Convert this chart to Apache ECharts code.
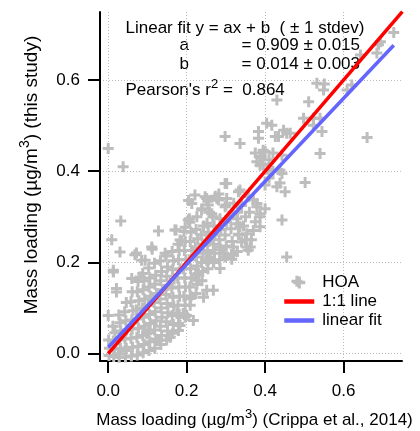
<!DOCTYPE html>
<html>
<head>
<meta charset="utf-8">
<script src="https://cdn.jsdelivr.net/npm/echarts@6/dist/echarts.min.js"></script>
<style>
html, body { margin: 0; padding: 0; background: #fff; }
#chart { width: 420px; height: 431px; }
</style>
</head>
<body>
<div id="chart"></div>
<script>
// HOA mass loading, x = Crippa et al. 2014, y = this study (ug/m3)
var hoaPoints = [
  // dense core
  [0.002,-0.004],[0.003,0.012],[0.001,0.03],
  [0.014,-0.006],[0.016,0.01],[0.013,0.028],[0.017,0.046],[0.012,0.06],
  [0.028,-0.008],[0.031,0.012],[0.029,0.03],[0.032,0.05],[0.03,0.068],[0.027,0.085],
  [0.044,-0.007],[0.046,0.012],[0.043,0.032],[0.047,0.052],[0.045,0.072],[0.042,0.092],[0.046,0.112],
  [0.059,-0.005],[0.062,0.014],[0.058,0.034],[0.061,0.054],[0.06,0.074],[0.063,0.094],[0.058,0.114],[0.061,0.136],
  [0.074,-0.003],[0.076,0.016],[0.073,0.036],[0.077,0.056],[0.075,0.076],[0.072,0.096],[0.078,0.116],[0.074,0.136],[0.076,0.158],
  [0.089,0.002],[0.091,0.02],[0.088,0.04],[0.092,0.06],[0.09,0.08],[0.087,0.1],[0.093,0.12],[0.089,0.14],[0.091,0.16],[0.088,0.176],
  [0.104,0.007],[0.106,0.026],[0.103,0.046],[0.107,0.066],[0.105,0.086],[0.102,0.106],[0.108,0.126],[0.104,0.146],[0.106,0.166],[0.103,0.188],
  [0.119,0.012],[0.121,0.032],[0.118,0.052],[0.122,0.072],[0.12,0.092],[0.117,0.112],[0.123,0.132],[0.119,0.152],[0.121,0.172],[0.118,0.198],
  [0.134,0.02],[0.136,0.04],[0.133,0.06],[0.137,0.08],[0.135,0.1],[0.132,0.12],[0.138,0.14],[0.134,0.16],[0.136,0.18],[0.133,0.204],
  [0.149,0.03],[0.151,0.05],[0.148,0.07],[0.152,0.09],[0.15,0.11],[0.147,0.13],[0.153,0.15],[0.149,0.17],[0.151,0.19],[0.148,0.214],
  [0.164,0.045],[0.166,0.064],[0.163,0.084],[0.167,0.104],[0.165,0.124],[0.162,0.144],[0.168,0.164],[0.164,0.184],[0.166,0.204],[0.163,0.224],
  [0.179,0.066],[0.181,0.086],[0.178,0.106],[0.182,0.126],[0.18,0.146],[0.177,0.166],[0.183,0.186],[0.179,0.206],[0.181,0.226],[0.178,0.24],
  [0.194,0.086],[0.196,0.106],[0.193,0.126],[0.197,0.146],[0.195,0.166],[0.192,0.186],[0.198,0.206],[0.194,0.226],[0.196,0.246],[0.193,0.268],
  [0.209,0.106],[0.211,0.126],[0.208,0.146],[0.212,0.166],[0.21,0.186],[0.207,0.206],[0.213,0.226],[0.209,0.246],[0.211,0.266],[0.208,0.288],
  [0.224,0.132],[0.226,0.152],[0.223,0.172],[0.227,0.192],[0.225,0.212],[0.222,0.232],[0.228,0.252],[0.224,0.272],[0.226,0.3],
  [0.239,0.16],[0.241,0.18],[0.238,0.2],[0.242,0.22],[0.24,0.24],[0.237,0.26],[0.243,0.28],[0.239,0.318],
  [0.254,0.186],[0.256,0.206],[0.253,0.226],[0.257,0.246],[0.255,0.266],[0.252,0.286],[0.258,0.31],[0.254,0.334],
  [0.269,0.2],[0.271,0.22],[0.268,0.24],[0.272,0.26],[0.27,0.28],[0.267,0.3],[0.273,0.345],
  [0.284,0.206],[0.286,0.228],[0.283,0.25],[0.287,0.272],[0.285,0.296],[0.282,0.35],
  [0.299,0.212],[0.301,0.236],[0.298,0.26],[0.302,0.288],[0.3,0.326],
  [0.314,0.218],[0.316,0.246],[0.313,0.274],[0.318,0.31],
  [0.329,0.224],[0.332,0.262],[0.328,0.296],
  // upper-left and middle
  [0.0,0.45],[0.038,0.41],[0.032,0.291],[0.009,0.25],[0.03,0.223],[0.068,0.217],[0.072,0.221],[0.094,0.205],
  [0.085,0.205],[0.111,0.234],[0.112,0.229],[0.128,0.269],[0.145,0.22],[0.17,0.271],[0.173,0.271],[0.183,0.249],
  [0.187,0.247],[0.196,0.277],[0.204,0.293],[0.207,0.296],[0.205,0.336],[0.213,0.329],[0.221,0.348],[0.238,0.315],
  [0.247,0.344],[0.251,0.34],[0.255,0.326],[0.264,0.307],[0.277,0.34],[0.281,0.337],[0.298,0.322],[0.302,0.34],
  [0.298,0.373],[0.302,0.373],[0.332,0.355],[0.336,0.359],[0.357,0.344],[0.37,0.337],[0.379,0.329],[0.379,0.322],
  [0.387,0.307],[0.387,0.3],[0.375,0.289],[0.4,0.318],[0.013,0.183],[0.013,0.179],[0.021,0.143],[0.021,0.135],
  [0.06,0.165],[0.081,0.168],[0.0,0.084],
  // right of the line
  [0.31,0.3],[0.33,0.31],[0.35,0.3],[0.32,0.33],[0.34,0.325],[0.36,0.31],[0.345,0.28],[0.33,0.285],
  [0.37,0.27],[0.35,0.25],[0.365,0.25],[0.34,0.245],[0.336,0.278],[0.353,0.263],[0.362,0.234],[0.353,0.234],
  [0.319,0.234],[0.332,0.26],[0.387,0.278],[0.251,0.249],[0.285,0.234],[0.443,0.293],[0.455,0.212],[0.481,0.159],
  // lower right
  [0.251,0.139],[0.268,0.139],[0.243,0.124],[0.209,0.121],[0.2,0.084],[0.175,0.088],[0.191,0.088],[0.196,0.08],
  [0.179,0.051],[0.183,0.062],[0.217,0.073],[0.158,0.036],[0.128,0.029],[0.098,0.044],[0.043,0.007],[0.026,0.0],
  [0.26,0.212],[0.294,0.22],[0.319,0.216],[0.357,0.227],[0.251,0.205],[0.268,0.201],[0.315,0.207],[0.285,0.187],
  [0.23,0.176],[0.23,0.161],
  // upper cluster
  [0.298,0.476],[0.336,0.461],[0.379,0.421],[0.387,0.413],[0.387,0.432],[0.395,0.446],[0.4,0.443],[0.383,0.472],
  [0.383,0.487],[0.404,0.505],[0.417,0.501],[0.426,0.476],[0.434,0.476],[0.447,0.49],[0.464,0.483],[0.455,0.483],
  [0.443,0.435],[0.443,0.395],[0.438,0.402],[0.438,0.374],[0.43,0.366],[0.451,0.355],[0.39,0.43],[0.41,0.425],
  [0.42,0.44],[0.395,0.415],[0.405,0.405],[0.375,0.44],[0.41,0.385],[0.42,0.4],[0.4,0.37],[0.502,0.375],
  [0.54,0.439],[0.545,0.487],[0.498,0.516],[0.523,0.516],[0.523,0.501],[0.54,0.516],[0.66,0.474],
  // top
  [0.43,0.556],[0.511,0.552],[0.532,0.593],[0.551,0.591],[0.549,0.578],[0.609,0.578],[0.621,0.589],
  [0.643,0.655],[0.685,0.659],[0.689,0.677],[0.694,0.684],[0.728,0.704]
];
var oneToOneX = [0, 0.75];
var oneToOneY = [0, 0.75];
var fitX = [0, 0.728];
var fitY = [0.014, 0.676];
var tickValues = [0, 0.2, 0.4, 0.6];
var seriesNames = ['HOA', '1:1 line', 'linear fit'];

var FONT = '"Liberation Sans", Arial, sans-serif';
var plusIcon = 'path://M4,0L7,0L7,4L11,4L11,7L7,7L7,11L4,11L4,7L0,7L0,4L4,4Z';

function pairs(xs, ys) {
  return xs.map(function (x, i) { return [x, ys[i]]; });
}

function valueAxis(min, max) {
  return {
    type: 'value',
    min: min,
    max: max,
    axisLine: { show: true, onZero: false, lineStyle: { color: '#000', width: 2 } },
    axisTick: { show: true, length: 12, customValues: tickValues, lineStyle: { color: '#000', width: 2 } },
    axisLabel: {
      customValues: tickValues,
      color: '#000',
      fontSize: 17,
      fontFamily: FONT,
      formatter: function (v) { return v.toFixed(1); }
    },
    splitLine: { show: true, lineStyle: { color: '#bbb', width: 1, type: [1, 2] } }
  };
}

var xAxis = valueAxis(-0.021, 0.749);
xAxis.axisLabel.margin = 22;
var yAxis = valueAxis(-0.016, 0.749);
yAxis.axisLabel.margin = 20;

var supStyle = { fontSize: 13, lineHeight: 13, verticalAlign: 'top', fontFamily: FONT, fill: '#000' };

var chart = echarts.init(document.getElementById('chart'), null, { renderer: 'canvas' });

chart.setOption({
  animation: false,
  backgroundColor: '#fff',
  textStyle: { fontFamily: FONT },
  grid: { left: 100, right: 18, top: 12, bottom: 70 },
  xAxis: xAxis,
  yAxis: yAxis,
  legend: {
    orient: 'vertical',
    left: 282,
    top: 274,
    padding: 0,
    itemWidth: 30,
    itemHeight: 12,
    itemGap: 2,
    textStyle: { color: '#000', fontSize: 17, fontFamily: FONT, padding: [0, 0, 0, 3] },
    data: [
      { name: seriesNames[0], icon: plusIcon, itemStyle: { color: '#bdbdbd' } },
      { name: seriesNames[1], lineStyle: { width: 4.5 }, itemStyle: { opacity: 0 } },
      { name: seriesNames[2], lineStyle: { width: 4.5 }, itemStyle: { opacity: 0 } }
    ]
  },
  series: [
    {
      name: seriesNames[0],
      type: 'scatter',
      symbol: plusIcon,
      symbolSize: 11,
      itemStyle: { color: '#bdbdbd', opacity: 1 },
      data: hoaPoints,
      silent: true
    },
    {
      name: seriesNames[1],
      type: 'line',
      symbol: 'none',
      lineStyle: { color: '#ff0000', width: 3.5 },
      itemStyle: { color: '#ff0000' },
      data: pairs(oneToOneX, oneToOneY),
      silent: true
    },
    {
      name: seriesNames[2],
      type: 'line',
      symbol: 'none',
      lineStyle: { color: '#6464ff', width: 3.5 },
      itemStyle: { color: '#6464ff' },
      data: pairs(fitX, fitY),
      silent: true
    }
  ],
  graphic: [
    { type: 'text', x: 125.5, y: 28, style: { text: 'Linear fit y = ax + b  ( \u00b1 1 stdev)', fontSize: 17, fontFamily: FONT, fill: '#000', verticalAlign: 'middle' } },
    { type: 'text', x: 179.5, y: 45.5, style: { text: 'a', fontSize: 17, fontFamily: FONT, fill: '#000', verticalAlign: 'middle' } },
    { type: 'text', x: 241.5, y: 45.5, style: { text: '= 0.909 \u00b1 0.015', fontSize: 17, fontFamily: FONT, fill: '#000', verticalAlign: 'middle' } },
    { type: 'text', x: 179.5, y: 64.5, style: { text: 'b', fontSize: 17, fontFamily: FONT, fill: '#000', verticalAlign: 'middle' } },
    { type: 'text', x: 241.5, y: 64.5, style: { text: '= 0.014 \u00b1 0.003', fontSize: 17, fontFamily: FONT, fill: '#000', verticalAlign: 'middle' } },
    {
      type: 'text', x: 125.5, y: 90.5,
      style: {
        text: "Pearson's r{sup|2} =  0.864", fontSize: 17, lineHeight: 26, fontFamily: FONT, fill: '#000', verticalAlign: 'middle',
        rich: { sup: supStyle }
      }
    },
    {
      type: 'text', x: 254.5, y: 420.5,
      style: {
        text: 'Mass loading (\u00b5g/m{sup|3}) (Crippa et al., 2014)', fontSize: 17, lineHeight: 26, fontFamily: FONT, fill: '#000',
        align: 'center', verticalAlign: 'middle',
        rich: { sup: supStyle }
      }
    },
    {
      type: 'text', x: 32, y: 175, rotation: Math.PI / 2,
      style: {
        text: 'Mass loading (\u00b5g/m{sup|3}) (this study)', fontSize: 19, lineHeight: 28, fontFamily: FONT, fill: '#000',
        align: 'center', verticalAlign: 'middle',
        rich: { sup: { fontSize: 14, lineHeight: 14, verticalAlign: 'top', fontFamily: FONT, fill: '#000' } }
      }
    }
  ]
});
</script>
</body>
</html>
